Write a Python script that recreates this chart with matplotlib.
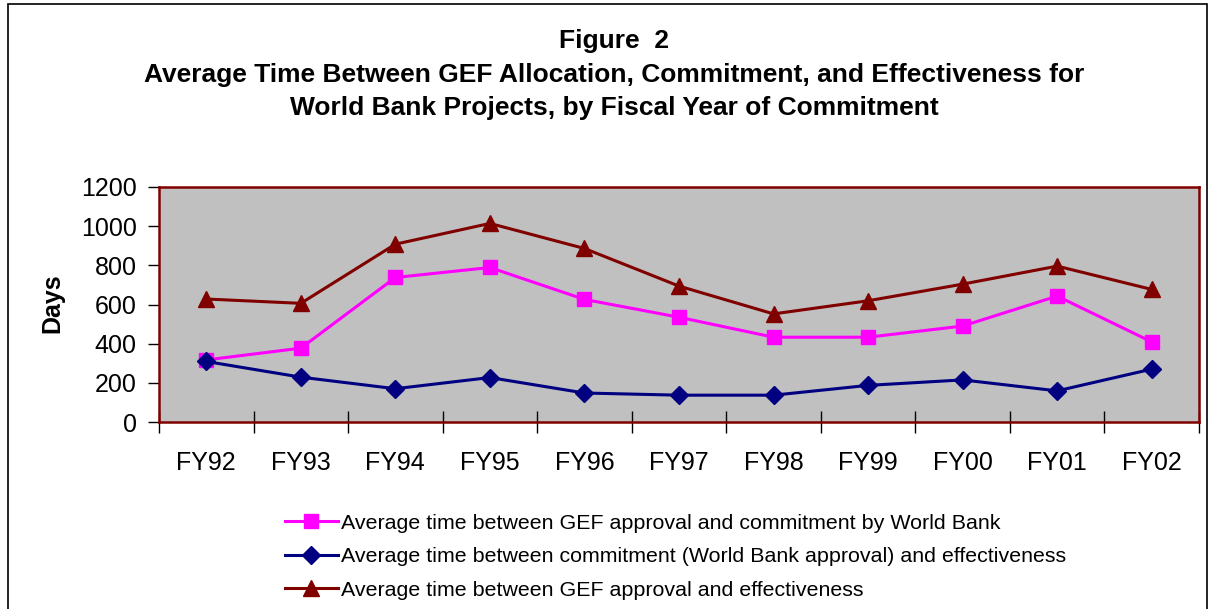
import matplotlib
matplotlib.use("Agg")
import matplotlib.pyplot as plt
from matplotlib.patches import Rectangle

plt.rcParams['font.family'] = ['Liberation Sans', 'DejaVu Sans']

# Data (days)
years = ["FY92", "FY93", "FY94", "FY95", "FY96", "FY97", "FY98", "FY99", "FY00", "FY01", "FY02"]
approval_to_commitment = [317, 377, 738, 789, 626, 535, 433, 433, 490, 643, 409]
commitment_to_effect = [309, 229, 170, 227, 148, 137, 137, 187, 215, 159, 270]
approval_to_effect = [628, 606, 908, 1014, 886, 694, 552, 619, 704, 796, 677]

label_a = "Average time between GEF approval and commitment by World Bank"
label_b = "Average time between commitment (World Bank approval) and effectiveness"
label_c = "Average time between GEF approval and effectiveness"

W, H = 1211, 609
fig = plt.figure(figsize=(W / 100, H / 100), dpi=100)

# outer frame of the chart object
fig.patches.append(Rectangle((8 / W, -0.05), 1199 / W, 1.05 - 4 / H,
                             transform=fig.transFigure, fill=False,
                             edgecolor='black', linewidth=1.2))

ax = fig.add_axes([159 / W, 1 - 422 / H, (1199 - 159) / W, (422 - 187) / H])
ax.set_facecolor('#C0C0C0')
for sp in ax.spines.values():
    sp.set_color('#800000')
    sp.set_linewidth(1.8)

x = list(range(len(years)))
ax.plot(x, approval_to_commitment, color='#FF00FF', lw=2.2, marker='s', ms=10.5,
        label=label_a)
ax.plot(x, commitment_to_effect, color='#000080', lw=2.2, marker='D', ms=9.5,
        label=label_b)
ax.plot(x, approval_to_effect, color='#800000', lw=2.2, marker='^', ms=11.5,
        label=label_c)

ax.set_xlim(-0.5, len(years) - 0.5)
ax.set_ylim(0, 1200)
ax.set_yticks(range(0, 1201, 200))
ax.tick_params(axis='y', direction='out', length=8, width=1, labelsize=18, pad=8)

# category boundaries as tick marks, names centred between them
ax.set_xticks([i - 0.5 for i in range(len(years) + 1)])
ax.set_xticklabels([])
ax.tick_params(axis='x', which='major', direction='inout', length=16, width=1)
ax.set_xticks(x, minor=True)
ax.set_xticklabels(years, minor=True)
ax.tick_params(axis='x', which='minor', length=0, labelsize=18, pad=21)

fig.text(52 / W, 1 - 303 / H, "Days", rotation=90, fontsize=18, fontweight='bold',
         ha='center', va='center')

fig.text(614 / W, 1 - 41 / H, "Figure  2", fontsize=19, fontweight='bold',
         ha='center', va='center')
fig.text(614 / W, 1 - 75 / H,
         "Average Time Between GEF Allocation, Commitment, and Effectiveness for",
         fontsize=19, fontweight='bold', ha='center', va='center')
fig.text(614 / W, 1 - 108 / H,
         "World Bank Projects, by Fiscal Year of Commitment",
         fontsize=19, fontweight='bold', ha='center', va='center')

fig.legend(loc='upper left', bbox_to_anchor=(276 / W, 1 - 505 / H), frameon=False,
           fontsize=15.4, handlelength=2.5, handletextpad=0.15, labelspacing=0.68,
           borderaxespad=0)

fig.savefig("out.png", dpi=100)
